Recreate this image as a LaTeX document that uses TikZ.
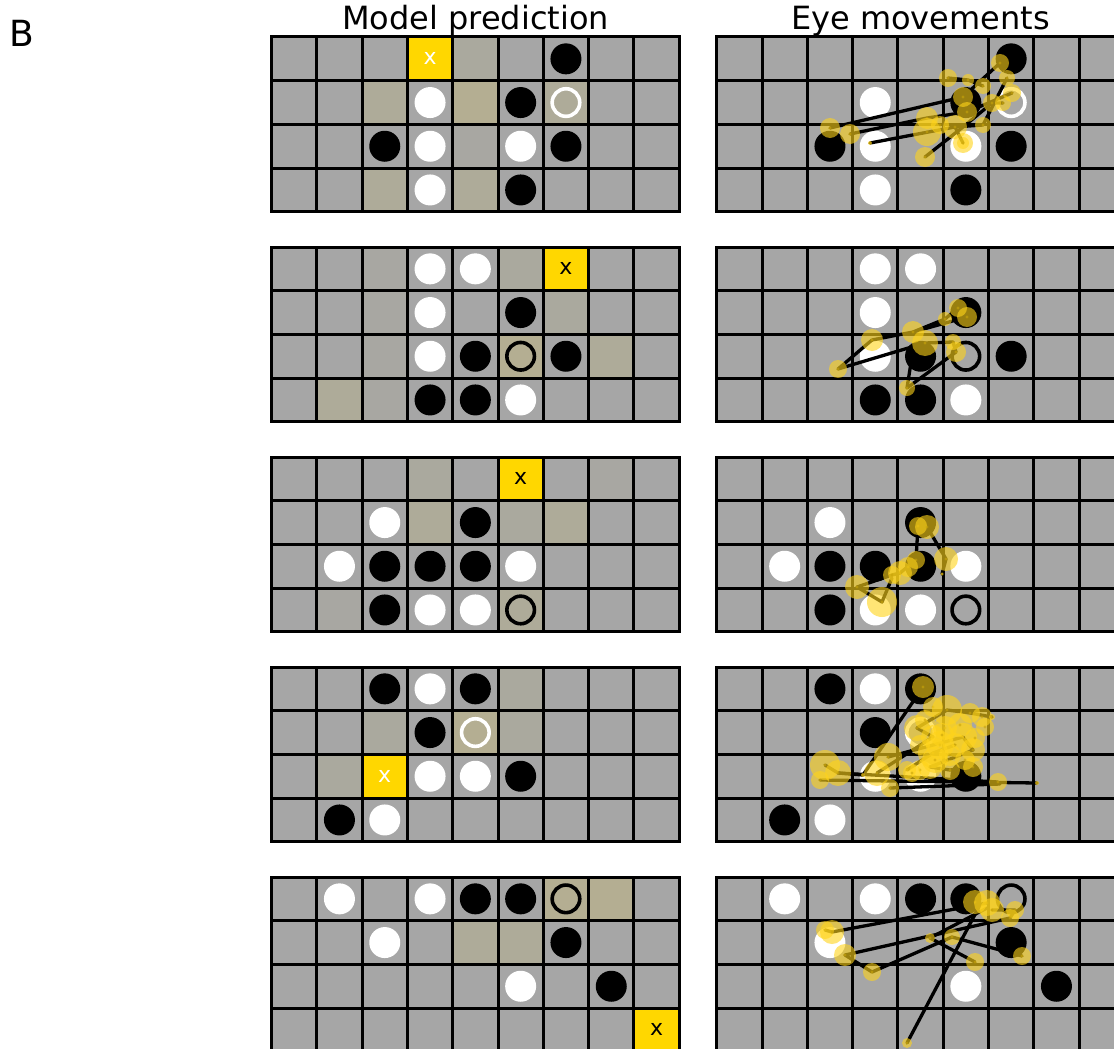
\documentclass[tikz,border=0pt]{standalone}
\usepackage{fontspec}
\setmainfont{DejaVu Sans}
\definecolor{cellgray}{HTML}{A6A6A6}
\definecolor{tanA}{HTML}{A8A7A2}
\definecolor{tanB}{HTML}{AAA99E}
\definecolor{tanC}{HTML}{AEAB99}
\definecolor{tanD}{HTML}{B4AE92}
\definecolor{goldcell}{HTML}{FFD700}
\definecolor{fixcol}{HTML}{FFD41A}
\definecolor{fixdot}{HTML}{C9A40A}
\tikzset{
  gridline/.style={black,line width=3pt,line cap=rect},
  scan/.style={black,line width=3.3pt,line join=round,line cap=round},
  fixcirc/.style={fill=fixcol,opacity=0.6},
  fixcenter/.style={fill=fixdot,opacity=0.6},
  title/.style={anchor=base,font=\fontsize{32}{32}\selectfont},
  xlab/.style={font=\fontsize{22}{22}\selectfont,inner sep=0pt},
}
\newcommand\BoardBase{\fill[cellgray] (0,0) rectangle (9,4);}
\newcommand\GridLines{%
  \foreach \i in {0,...,9}{\draw[gridline] (\i,0) -- (\i,4);}
  \foreach \j in {0,...,4}{\draw[gridline] (0,\j) -- (9,\j);}}
\newcommand\HiCell[3]{\fill[#3] (#1,#2) rectangle ++(1,1);}
\newcommand\YCell[2]{\fill[goldcell] (#1,#2) rectangle ++(1,1);}
\newcommand\XLab[4]{\node[xlab,text=#3] (#4) at ({#1+0.5},{#2+0.5}) {x};}
\newcommand\BStone[2]{\fill[black] ({#1+0.5},{#2+0.5}) circle[radius=15.5pt];}
\newcommand\WStone[2]{\fill[white] ({#1+0.5},{#2+0.5}) circle[radius=15.5pt];}
\newcommand\BRing[2]{\draw[black,line width=3.6pt] ({#1+0.5},{#2+0.5}) circle[radius=13.8pt];}
\newcommand\WRing[2]{\draw[white,line width=3.6pt] ({#1+0.5},{#2+0.5}) circle[radius=13.8pt];}
% stone sets
\newcommand\StonesA{\BStone{6}{0}\WStone{3}{1}\BStone{5}{1}\WRing{6}{1}\BStone{2}{2}\WStone{3}{2}\WStone{5}{2}\BStone{6}{2}\WStone{3}{3}\BStone{5}{3}}
\newcommand\StonesB{\WStone{3}{0}\WStone{4}{0}\WStone{3}{1}\BStone{5}{1}\WStone{3}{2}\BStone{4}{2}\BRing{5}{2}\BStone{6}{2}\BStone{3}{3}\BStone{4}{3}\WStone{5}{3}}
\newcommand\StonesC{\WStone{2}{1}\BStone{4}{1}\WStone{1}{2}\BStone{2}{2}\BStone{3}{2}\BStone{4}{2}\WStone{5}{2}\BStone{2}{3}\WStone{3}{3}\WStone{4}{3}\BRing{5}{3}}
\newcommand\StonesD{\BStone{2}{0}\WStone{3}{0}\BStone{4}{0}\BStone{3}{1}\WRing{4}{1}\WStone{3}{2}\WStone{4}{2}\BStone{5}{2}\BStone{1}{3}\WStone{2}{3}}
\newcommand\StonesE{\WStone{1}{0}\WStone{3}{0}\BStone{4}{0}\BStone{5}{0}\BRing{6}{0}\WStone{2}{1}\BStone{6}{1}\WStone{5}{2}\BStone{7}{2}}
\newcommand\Fixes[1]{\foreach \fx/\fy/\fr in {#1}{%
  \fill[fixcirc] (\fx,\fy) circle[radius=\fr*1pt];
  \fill[fixcenter] (\fx,\fy) circle[radius=1.6pt];}}
\begin{document}
\begin{tikzpicture}[x=1pt,y=-1pt]
\clip (0,0) rectangle (1114,1049);
\fill[white] (0,0) rectangle (1114,1049);
\node[anchor=base west,font=\fontsize{36}{36}\selectfont,inner sep=0pt] (panel) at (9.5,47) {B};
\node[title] (tleft) at (475.5,30) {Model prediction};
\node[title] (tright) at (920.6,30) {Eye movements};

% ---------------- Board 1 ----------------
\begin{scope}[shift={(271.5,37)},x=45.3pt,y=-43.7pt]
\BoardBase
\HiCell{4}{0}{tanB}\HiCell{2}{1}{tanC}\HiCell{4}{1}{tanD}\HiCell{6}{1}{tanC}
\HiCell{4}{2}{tanA}\HiCell{2}{3}{tanC}\HiCell{4}{3}{tanC}
\YCell{3}{0}
\GridLines
\XLab{3}{0}{white}{xa}
\StonesA
\end{scope}
\begin{scope}[shift={(716.7,37)},x=45.3pt,y=-43.7pt]
\BoardBase\GridLines\StonesA
\end{scope}
\draw[scan] (870,143) -- (955,127) -- (983,125) -- (1007,78);
\draw[scan] (830,128) -- (963,97) -- (1000,63);
\draw[scan] (850,134) -- (927,118) -- (967,112) -- (1012,93);
\draw[scan] (925,157) -- (963,127) -- (992,103) -- (1003,103);
\draw[scan] (948,78) -- (968,80) -- (983,86);
\draw[scan] (963,143) -- (955,127);
\Fixes{830/128/10, 850/134/10, 870/143/2, 927/118/11, 927/132/14, 925/157/10, 948/78/9, 968/80/6, 983/86/8, 963/97/10, 967/112/10, 955/127/12, 963/143/10, 983/125/8, 992/103/9, 1000/63/9, 1007/78/8, 1012/93/9, 1003/103/8, 940/125/9, 963/143/6}

% ---------------- Board 2 ----------------
\begin{scope}[shift={(271.5,247)},x=45.3pt,y=-43.7pt]
\BoardBase
\HiCell{2}{0}{tanA}\HiCell{2}{1}{tanA}\HiCell{2}{2}{tanA}\HiCell{2}{3}{tanA}
\HiCell{5}{0}{tanB}\HiCell{6}{1}{tanB}\HiCell{5}{2}{tanD}\HiCell{7}{2}{tanC}\HiCell{1}{3}{tanC}
\YCell{6}{0}
\GridLines
\XLab{6}{0}{black}{xb}
\StonesB
\end{scope}
\begin{scope}[shift={(716.7,247)},x=45.3pt,y=-43.7pt]
\BoardBase\GridLines\StonesB
\end{scope}
\draw[scan] (872,340) -- (838,369) -- (925,343) -- (953,342) -- (956,352) -- (907,388) -- (913,350);
\draw[scan] (872,340) -- (913,332) -- (945,319) -- (958,308) -- (967,317) -- (913,332);
\Fixes{838/369/9, 872/340/11, 913/332/11, 925/343/13, 945/319/7, 958/308/9, 967/317/10, 953/342/8, 956/352/10, 907/388/8}

% ---------------- Board 3 ----------------
\begin{scope}[shift={(271.5,457)},x=45.3pt,y=-43.7pt]
\BoardBase
\HiCell{3}{0}{tanB}\HiCell{7}{0}{tanA}\HiCell{3}{1}{tanC}\HiCell{5}{1}{tanB}\HiCell{6}{1}{tanC}
\HiCell{1}{3}{tanA}\HiCell{5}{3}{tanC}
\YCell{5}{0}
\GridLines
\XLab{5}{0}{black}{xc}
\StonesC
\end{scope}
\begin{scope}[shift={(716.7,457)},x=45.3pt,y=-43.7pt]
\BoardBase\GridLines\StonesC
\end{scope}
\draw[scan] (942,574) -- (946,559) -- (927,527) -- (918,526) -- (916,560) -- (900,573) -- (892,575) -- (857,587) -- (882,602) -- (892,578);
\Fixes{918/526/9, 927/527/12, 946/559/12, 942/574/1.5, 916/560/9, 908/567/10, 900/573/12, 892/575/9, 857/587/12, 882/602/15}

% ---------------- Board 4 ----------------
\begin{scope}[shift={(271.5,667)},x=45.3pt,y=-43.7pt]
\BoardBase
\HiCell{5}{0}{tanB}\HiCell{2}{1}{tanB}\HiCell{4}{1}{tanD}\HiCell{5}{1}{tanB}\HiCell{1}{2}{tanB}
\YCell{2}{2}
\GridLines
\XLab{2}{2}{white}{xd}
\StonesD
\end{scope}
\begin{scope}[shift={(716.7,667)},x=45.3pt,y=-43.7pt]
\BoardBase\GridLines\StonesD
\end{scope}
\draw[scan] (820,780) -- (1037,783);
\draw[scan] (838,773) -- (998,782);
\draw[scan] (890,788) -- (1000,784);
\draw[scan] (863,775) -- (923,687);
\draw[scan] (877,773) -- (933,737) -- (917,728) -- (947,710) -- (970,713) -- (992,717);
\draw[scan] (888,757) -- (963,737) -- (973,750) -- (930,767) -- (950,770) -- (973,767);
\draw[scan] (907,770) -- (933,753) -- (955,745);
\draw[scan] (825,765) -- (838,773) -- (863,775);
\Fixes{923/687/11, 933/707/10, 947/710/15, 970/713/10, 982/717/10, 992/717/3, 917/728/13, 933/737/12, 963/737/14, 973/750/12, 933/753/15, 930/767/12, 950/770/10, 973/767/10, 888/757/14, 877/773/13, 863/775/2, 907/770/9, 890/788/9, 825/765/15, 838/773/13, 820/780/9, 998/782/9, 1037/783/2, 945/728/12, 955/745/12, 920/770/10, 940/745/14, 935/760/13, 960/725/12, 925/720/10, 950/755/11, 965/760/10, 942/735/12, 912/773/9, 975/738/10, 985/727/9, 920/745/10}

% ---------------- Board 5 ----------------
\begin{scope}[shift={(271.5,877)},x=45.3pt,y=-43.7pt]
\BoardBase
\HiCell{6}{0}{tanD}\HiCell{7}{0}{tanD}\HiCell{4}{1}{tanC}\HiCell{5}{1}{tanC}
\YCell{8}{3}
\GridLines
\XLab{8}{3}{black}{xe}
\StonesE
\end{scope}
\begin{scope}[shift={(716.7,877)},x=45.3pt,y=-43.7pt]
\BoardBase\GridLines\StonesE
\end{scope}
\draw[scan] (907,1043) -- (980,905);
\draw[scan] (825,930) -- (832,932) -- (987,903);
\draw[scan] (845,955) -- (1010,918) -- (1015,910) -- (992,910);
\draw[scan] (845,955) -- (872,972) -- (952,937) -- (1022,956);
\draw[scan] (930,938) -- (987,908);
\draw[scan] (930,938) -- (975,962);
\Fixes{975/902/12, 987/903/13, 992/910/12, 1015/910/9, 1010/918/9, 825/930/9, 832/932/12, 845/955/11, 872/972/9, 930/938/5, 952/937/8, 975/962/9, 1022/956/9, 907/1043/5}
\end{tikzpicture}
\end{document}
